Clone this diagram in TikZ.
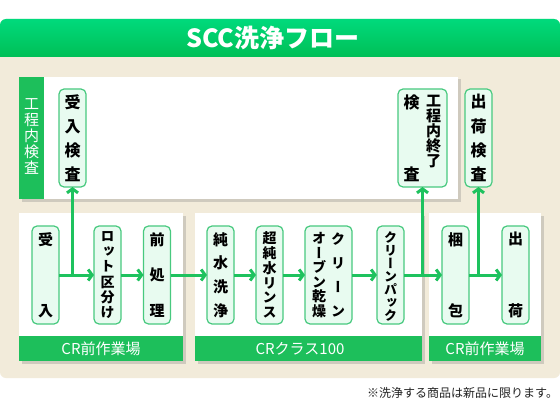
\documentclass[tikz,border=0pt]{standalone}
\usepackage{fontspec}
\usepackage{graphicx}
\setmainfont{Noto Sans CJK JP}
\newfontfamily\jpv{Noto Sans CJK JP}[RawFeature=+vert]
\usetikzlibrary{arrows.meta,shadows}
\definecolor{beige}{HTML}{F2EBDA}
\definecolor{titletop}{HTML}{00DA7C}
\definecolor{titlebot}{HTML}{00BF56}
\definecolor{band}{HTML}{1DBF5B}
\definecolor{nodeline}{HTML}{48C97F}
\definecolor{nodefill}{HTML}{E8FBF0}
\definecolor{arrowgreen}{HTML}{1EC25E}
\definecolor{foot}{HTML}{222222}
\newcommand\vf{\par\vfill}
\newcommand\spreadcol[2]{\parbox[c][#1][s]{22pt}{\centering #2\par}}
\newcommand\tightcol[3]{\parbox[c][#1][t]{22pt}{\centering\lineskiplimit=-100pt\lineskip=0pt\baselineskip=#2 #3\par}}
\newcommand\freecol[2]{\parbox{22pt}{\centering\lineskiplimit=-100pt\lineskip=0pt\baselineskip=#1 #2\par}}
\begin{document}
\begin{tikzpicture}[x=1pt,y=-1pt,
  every node/.style={inner sep=0pt, outer sep=0pt},
  panel/.style={fill=white, drop shadow={shadow xshift=2.5pt,shadow yshift=-2.5pt,opacity=0.3}},
  stepbox/.style={draw=nodeline, fill=nodefill, line width=1.2pt, rounded corners=5pt,
    minimum width=27pt, minimum height=98pt, text=black,
    font=\jpv\bfseries\fontsize{15}{15}\selectfont},
  topbox/.style={stepbox, font=\jpv\bfseries\fontsize{16}{16}\selectfont},
  flow/.style={draw=arrowgreen, line width=3pt, -{Straight Barb[length=4pt,width=11pt]}},
  bandtext/.style={text=white, font=\fontsize{15}{15}\selectfont}]
\useasboundingbox (0,0) rectangle (560,420);
\fill[white] (0,0) rectangle (560,420);
% background
\fill[beige, rounded corners=6pt] (0,19) rectangle (560,378);
\shade[top color=titletop, bottom color=titlebot] (0,57) {[rounded corners=6pt] -- (0,19) -- (560,19)} -- (560,57) -- cycle;
\node[text=white, font=\bfseries\fontsize{25}{25}\selectfont] (title) at (273,38) {SCC洗浄フロー};
% panels
\path[panel] (19,77) rectangle (458,199);
\fill[band] (19,77) rectangle (44,199);
\node[text=white, font=\jpv\fontsize{15}{15}\selectfont] (strip) at (31.5,136.5) {\freecol{15.8pt}{工\\程\\内\\検\\査}};
\path[panel] (19,213) rectangle (183,361);
\fill[band] (19,336) rectangle (183,361);
\path[panel] (195,213) rectangle (422,361);
\fill[band] (195,336) rectangle (422,361);
\path[panel] (429,213) rectangle (541,361);
\fill[band] (429,336) rectangle (541,361);
\node[bandtext] (b1) at (101,348.5) {CR前作業場};
\node[bandtext] (b2) at (300,348.5) {CRクラス100};
\node[bandtext] (b3) at (485,348.5) {CR前作業場};
% inspection nodes
\node[topbox] (kin) at (72.5,138) {\spreadcol{86pt}{受\vf 入\vf 検\vf 査}};
\node[topbox, minimum width=49pt] (koutei) at (422.5,138) {\spreadcol{86pt}{検\vf 査}\tightcol{86pt}{17pt}{\fontsize{15}{15}\selectfont 工\\程\\内\\終\\了}};
\node[topbox] (shukka) at (478.5,138) {\spreadcol{86pt}{出\vf 荷\vf 検\vf 査}};
% process nodes
\node[stepbox] (uke) at (45.5,275) {\spreadcol{84pt}{受\vf 入}};
\node[stepbox, font=\jpv\bfseries\fontsize{14}{14}\selectfont] (lot) at (107.5,275) {\spreadcol{86pt}{ロ\vf ッ\vf ト\vf 区\vf 分\vf け}};
\node[stepbox] (mae) at (157,275) {\spreadcol{84pt}{前\vf 処\vf 理}};
\node[stepbox] (jun) at (220.5,275) {\spreadcol{84pt}{純\vf 水\vf 洗\vf 浄}};
\node[stepbox, font=\jpv\bfseries\fontsize{14}{14}\selectfont] (chou) at (269.5,275) {\spreadcol{86pt}{超\vf 純\vf 水\vf リ\vf ン\vf ス}};
\node[stepbox, minimum width=47pt, font=\jpv\bfseries\fontsize{14}{14}\selectfont] (oven) at (328.5,275) {\spreadcol{84pt}{オ\vf ー\vf ブ\vf ン\vf 乾\vf 燥}\hspace{-3pt}\spreadcol{84pt}{ク\vf リ\vf ー\vf ン}};
\node[stepbox, font=\jpv\bfseries\fontsize{13}{13}\selectfont] (pack) at (390.5,275) {\spreadcol{86pt}{ク\vf リ\vf ー\vf ン\vf パ\vf ッ\vf ク}};
\node[stepbox] (konpo) at (455.5,275) {\spreadcol{84pt}{梱\vf 包}};
\node[stepbox] (shukka2) at (515.5,275) {\spreadcol{84pt}{出\vf 荷}};
% connectors
\draw[flow] (uke) -- (lot);
\draw[flow] (kin.south |- uke.east) -- (kin.south);
\draw[flow] (lot) -- (mae);
\draw[flow] (mae) -- (jun);
\draw[flow] (jun) -- (chou);
\draw[flow] (chou) -- (oven);
\draw[flow] (oven) -- (pack);
\draw[flow] (pack) -- (konpo);
\draw[flow] (koutei.south |- pack.east) -- (koutei.south);
\draw[flow] (konpo) -- (shukka2);
\draw[flow] (shukka.south |- konpo.east) -- (shukka.south);
% footnote
\node[anchor=east, text=foot, font=\fontsize{12}{12}\selectfont] (note) at (558,393) {※洗浄する商品は新品に限ります。};
\end{tikzpicture}
\end{document}
